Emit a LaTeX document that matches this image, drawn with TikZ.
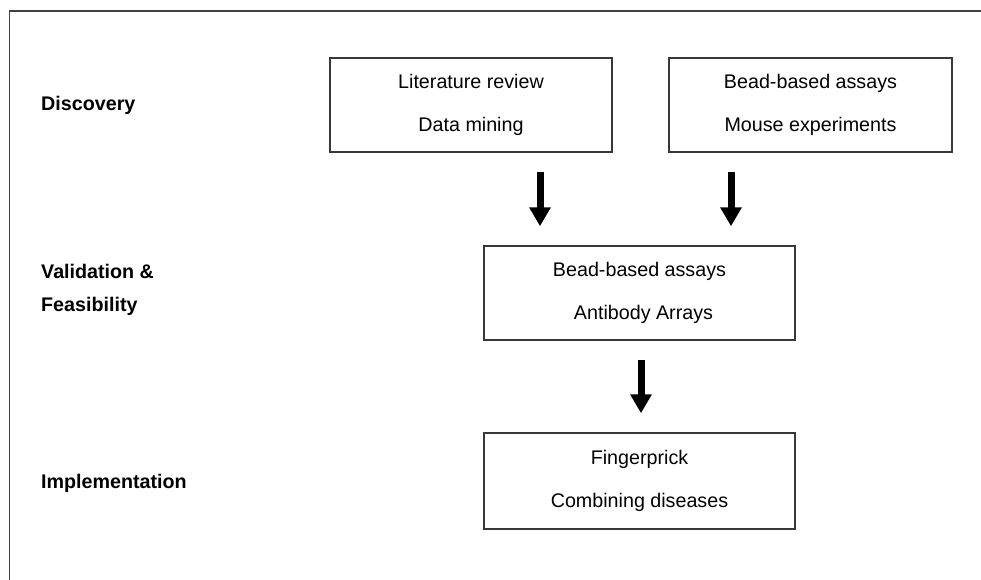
\documentclass[tikz,border=0pt]{standalone}
\usepackage{fontspec}
\setmainfont{Liberation Sans}
\usetikzlibrary{arrows.meta}
\begin{document}
\begin{tikzpicture}[x=1pt,y=-1pt,
  box/.style={draw=black!78, line width=1.5pt, rectangle, align=center, inner sep=0pt,
    font=\fontsize{19.7}{42.5}\selectfont},
  stagelabel/.style={anchor=base west, inner sep=0pt, font=\fontsize{19.7}{24}\selectfont\bfseries},
  bigarrow/.style={line width=7pt, -{Triangle[width=20.5pt,length=19pt]}},
  frameline/.style={draw=black!75, line width=1.5pt}
]
\useasboundingbox (0,0) rectangle (981,580);
\draw[frameline] (9.5,580) -- (9.5,11) -- (981,11);

\node[box, minimum width=282pt, minimum height=94pt] (b1) at (471,105) {Literature review\\Data mining};
\node[box, minimum width=283pt, minimum height=94pt] (b2) at (810.5,105) {Bead-based assays\\Mouse experiments};
\node[box, minimum width=311pt, minimum height=94pt] (b3) at (639.5,293) {Bead-based assays\\\hspace*{8pt}Antibody Arrays};
\node[box, minimum width=311pt, minimum height=96pt] (b4) at (639.5,481) {Fingerprick\\Combining diseases};

\node[stagelabel] (l1) at (41,111) {Discovery};
\node[stagelabel] (l2a) at (41,278) {Validation \&};
\node[stagelabel] (l2b) at (41,311) {Feasibility};
\node[stagelabel] (l3) at (41,488) {Implementation};

\coordinate (ax1) at (540,0);
\coordinate (ax2) at (731,0);
\coordinate (ax3) at (641,0);
\draw[bigarrow, shorten <=19pt, shorten >=19pt] (b1.south -| ax1) -- (b3.north -| ax1);
\draw[bigarrow, shorten <=19pt, shorten >=19pt] (b2.south -| ax2) -- (b3.north -| ax2);
\draw[bigarrow, shorten <=19pt, shorten >=19pt] (b3.south -| ax3) -- (b4.north -| ax3);
\end{tikzpicture}
\end{document}
